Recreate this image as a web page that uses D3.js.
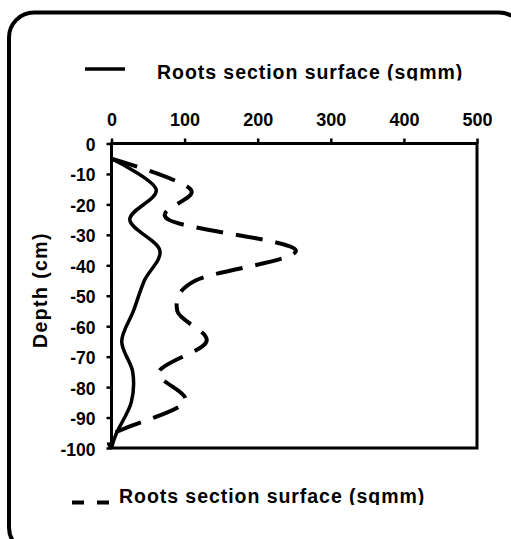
<!DOCTYPE html>
<html>
<head>
<meta charset="utf-8">
<script src="https://cdn.jsdelivr.net/npm/d3@7"></script>
<style>
  body { margin: 0; background: #fff; }
  text { font-family: "Liberation Sans", Arial, sans-serif; font-weight: bold; fill: #000; }
</style>
</head>
<body>
<div id="chart"></div>
<script>
// depth points (cm) and root section surface (sqmm)
const depths = [-5, -15, -25, -35, -45, -55, -65, -75, -85, -95, -100];
const solidSeries = [0, 61, 25, 66, 45, 30, 14, 29, 27, 7, 0];
const dashedSeries = [0, 108, 78, 252, 115, 90, 130, 65, 100, 5, 0];
const xTicks = [0, 100, 200, 300, 400, 500];
const yTicks = [0, -10, -20, -30, -40, -50, -60, -70, -80, -90, -100];
const seriesLabel = "Roots section surface (sqmm)";
const yTitle = "Depth  (cm)";

const width = 511, height = 539;
const svg = d3.select("#chart").append("svg")
  .attr("width", width).attr("height", height);

// outer rounded frame (runs off the right and bottom edge)
svg.append("rect")
  .attr("x", 9).attr("y", 12.5)
  .attr("width", 515).attr("height", 540)
  .attr("rx", 25).attr("ry", 25)
  .attr("fill", "none").attr("stroke", "#000").attr("stroke-width", 4);

const x = d3.scaleLinear().domain([0, 500]).range([111.5, 477]);
const y = d3.scaleLinear().domain([0, -100]).range([143.5, 448]);

// axes
const xAxis = svg.append("g")
  .attr("transform", `translate(0,${y(0)})`)
  .call(d3.axisTop(x).tickValues(xTicks).tickSize(5).tickPadding(13));
const yAxis = svg.append("g")
  .attr("transform", `translate(${x(0)},0)`)
  .call(d3.axisLeft(y).tickValues(yTicks).tickFormat(d => String(d))
    .tickSize(5).tickPadding(11));

[xAxis, yAxis].forEach(g => {
  g.select(".domain").remove();
  g.selectAll("line").attr("stroke", "#000").attr("stroke-width", 2.5);
  g.selectAll("text")
    .style("font-family", "'Liberation Sans', Arial, sans-serif")
    .style("font-weight", "bold")
    .attr("fill", "#000");
});
xAxis.selectAll("text").style("font-size", "18px");
yAxis.selectAll("text").style("font-size", "17.5px").attr("dy", "0.4em");

// plot box
svg.append("rect")
  .attr("x", x(0)).attr("y", y(0))
  .attr("width", x(500) - x(0)).attr("height", y(-100) - y(0))
  .attr("fill", "none").attr("stroke", "#000").attr("stroke-width", 3);

// y title
svg.append("text")
  .attr("transform", `translate(47,290) rotate(-90)`)
  .attr("text-anchor", "middle")
  .style("font-size", "19.5px")
  .style("letter-spacing", "1.4px")
  .text(yTitle);

// lines
const line = d3.line()
  .x(d => x(d[0]))
  .y(d => y(d[1]))
  .curve(d3.curveCardinal.tension(0));

svg.append("path")
  .datum(solidSeries.map((v, i) => [v, depths[i]]))
  .attr("d", line)
  .attr("fill", "none").attr("stroke", "#000")
  .attr("stroke-width", 3.5);

svg.append("path")
  .datum(dashedSeries.map((v, i) => [v, depths[i]]))
  .attr("d", line)
  .attr("fill", "none").attr("stroke", "#000")
  .attr("stroke-width", 4)
  .attr("stroke-dasharray", "27,13");

// legends (text bottoms are clipped like in the source image)
const defs = svg.append("defs");
defs.append("clipPath").attr("id", "clipTop")
  .append("rect").attr("x", 0).attr("y", 0).attr("width", width).attr("height", 80.5);
defs.append("clipPath").attr("id", "clipBottom")
  .append("rect").attr("x", 0).attr("y", 470).attr("width", width).attr("height", 35);

svg.append("line")
  .attr("x1", 85).attr("x2", 125).attr("y1", 69).attr("y2", 69)
  .attr("stroke", "#000").attr("stroke-width", 3.5);
svg.append("text")
  .attr("x", 157).attr("y", 79)
  .attr("clip-path", "url(#clipTop)")
  .style("font-size", "19.5px")
  .style("letter-spacing", "0.95px")
  .text(seriesLabel);

svg.append("line")
  .attr("x1", 72).attr("x2", 110).attr("y1", 502.5).attr("y2", 502.5)
  .attr("stroke", "#000").attr("stroke-width", 4)
  .attr("stroke-dasharray", "12,13");
svg.append("text")
  .attr("x", 119).attr("y", 503)
  .attr("clip-path", "url(#clipBottom)")
  .style("font-size", "19.5px")
  .style("letter-spacing", "0.95px")
  .text(seriesLabel);
</script>
</body>
</html>
